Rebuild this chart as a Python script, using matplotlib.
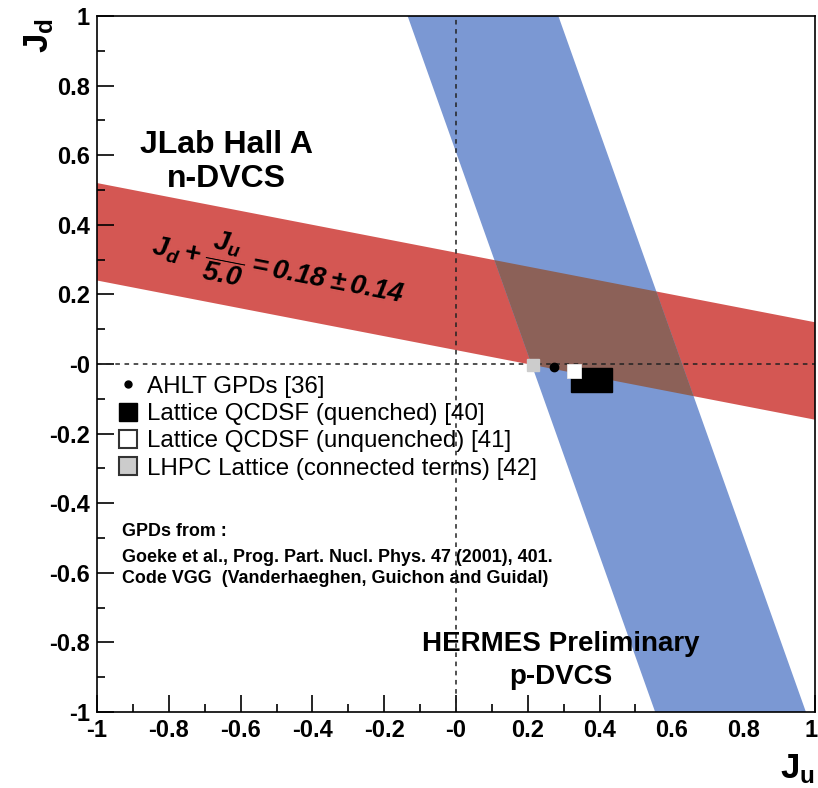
import numpy as np
import matplotlib.pyplot as plt
from matplotlib.patches import Polygon, Rectangle
from matplotlib.lines import Line2D
from matplotlib.ticker import MultipleLocator, FuncFormatter

plt.rcParams['font.family'] = ['Liberation Sans', 'DejaVu Sans']
plt.rcParams['mathtext.fontset'] = 'custom'
plt.rcParams['mathtext.rm'] = 'Liberation Sans:bold:italic'
plt.rcParams['mathtext.it'] = 'Liberation Sans:bold:italic'
plt.rcParams['mathtext.bf'] = 'Liberation Sans:bold'

# JLab Hall A n-DVCS band:  Jd + Ju/5.0 = 0.18 +- 0.14
jlab_div, jlab_val, jlab_err = 5.0, 0.18, 0.14
# HERMES p-DVCS band:  Ju + Jd/2.9 = 0.42 +- 0.21
herm_div, herm_val, herm_err = 2.9, 0.42, 0.21

# model / lattice points (Ju, Jd)
ahlt_ju, ahlt_jd = 0.273, -0.009
qq_ju, qq_jd = 0.377, -0.046          # quenched lattice, shown as error box
qq_eju, qq_ejd = 0.057, 0.034
qu_ju, qu_jd = 0.330, -0.020          # unquenched lattice
lhpc_ju, lhpc_jd = 0.215, -0.003

legend_labels = ['AHLT GPDs [36]', 'Lattice QCDSF (quenched) [40]',
                 'Lattice QCDSF (unquenched) [41]',
                 'LHPC Lattice (connected terms) [42]']

red, blue, brown = '#d45753', '#7b98d3', '#8c6158'

fig = plt.figure(figsize=(8.18, 7.88), dpi=100)
ax = fig.add_axes([0.1186, 0.0964, 0.8777, 0.8833])
ax.set_xlim(-1, 1)
ax.set_ylim(-1, 1)

# red band
xs = np.array([-1.0, 1.0])
lo = jlab_val - jlab_err - xs / jlab_div
hi = jlab_val + jlab_err - xs / jlab_div
red_pts = np.column_stack([np.r_[xs, xs[::-1]], np.r_[lo, hi[::-1]]])
ax.add_patch(Polygon(red_pts, closed=True, fc=red, ec='none', zorder=1))

# blue band
ys = np.array([-1.0, 1.0])
left = herm_val - herm_err - ys / herm_div
right = herm_val + herm_err - ys / herm_div
blue_pts = np.column_stack([np.r_[left, right[::-1]], np.r_[ys, ys[::-1]]])
blue_poly = Polygon(blue_pts, closed=True, fc=blue, ec='none', zorder=2)
ax.add_patch(blue_poly)

# overlap
ov = Polygon(red_pts, closed=True, fc=brown, ec='none', zorder=3)
ax.add_patch(ov)
ov.set_clip_path(blue_poly)

ax.axvline(0, color='#222222', lw=1.1, ls=(0, (3, 3)), zorder=4)
ax.axhline(0, color='#222222', lw=1.1, ls=(0, (3, 3)), zorder=4)

# points
ax.add_patch(Rectangle((qq_ju - qq_eju, qq_jd - qq_ejd), 2 * qq_eju, 2 * qq_ejd,
                       fc='black', ec='black', zorder=5))
ax.plot(qu_ju, qu_jd, 's', ms=10.5, mfc='white', mec='#e8e8e8', mew=0.6, zorder=6)
ax.plot(lhpc_ju, lhpc_jd, 's', ms=8.5, mfc='#cccccc', mec='#cccccc', zorder=6)
ax.plot(ahlt_ju, ahlt_jd, 'o', ms=6, color='black', zorder=6)

handles = [Line2D([], [], ls='', marker='o', ms=5, color='black'),
           Line2D([], [], ls='', marker='s', ms=13, mfc='black', mec='black'),
           Line2D([], [], ls='', marker='s', ms=13, mfc='white', mec='#333333', mew=1.5),
           Line2D([], [], ls='', marker='s', ms=13, mfc='#cccccc', mec='#333333', mew=1.5)]
leg = ax.legend(handles, legend_labels, loc='upper left', bbox_to_anchor=(0.014, 0.497),
                frameon=False, fontsize=17.4, handlelength=0.9, handletextpad=0.35,
                labelspacing=0.22, borderaxespad=0.0)
leg.set_zorder(7)

# texts
ax.text(-0.64, 0.58, 'JLab Hall A\nn-DVCS', ha='center', va='center',
        fontsize=23, fontweight='bold', linespacing=1.2, zorder=7)
ax.text(0.292, -0.851, 'HERMES Preliminary\np-DVCS', ha='center', va='center',
        fontsize=20, fontweight='bold', linespacing=1.35, zorder=7)
ax.text(-0.495, 0.276, r'$J_d + \dfrac{J_u}{5.0} = 0.18 \pm 0.14$', ha='center',
        va='center', rotation=-11, rotation_mode='anchor', fontsize=20, zorder=7)

ax.text(-0.93, -0.48, 'GPDs from :', fontsize=12.9, fontweight='bold', va='center')
ax.text(-0.93, -0.557, 'Goeke et al., Prog. Part. Nucl. Phys. 47 (2001), 401.',
        fontsize=12.9, fontweight='bold', va='center')
ax.text(-0.93, -0.615, 'Code VGG  (Vanderhaeghen, Guichon and Guidal)',
        fontsize=12.9, fontweight='bold', va='center')

# axes style
yfmt = FuncFormatter(lambda v, p: '-0' if abs(v) < 1e-9 else '%g' % v)
# the last x label sits at the frame edge; it is drawn separately right-aligned
xfmt = FuncFormatter(lambda v, p: '' if v > 0.99 else ('-0' if abs(v) < 1e-9 else '%g' % v))
for axis, fmt in ((ax.xaxis, xfmt), (ax.yaxis, yfmt)):
    axis.set_major_locator(MultipleLocator(0.2))
    axis.set_minor_locator(MultipleLocator(0.1))
    axis.set_major_formatter(fmt)
ax.tick_params(which='both', direction='in', top=False, right=False, width=1.2)
ax.tick_params(which='major', length=12, labelsize=17, pad=5)
ax.tick_params(which='minor', length=6)
for lab in ax.get_xticklabels() + ax.get_yticklabels():
    lab.set_fontweight('bold')
ax.annotate('1', xy=(1, 0), xycoords='axes fraction', xytext=(2, -5),
            textcoords='offset points', ha='right', va='top', fontsize=17,
            fontweight='bold', annotation_clip=False)
for sp in ax.spines.values():
    sp.set_linewidth(1.2)
    sp.set_zorder(8)

fig.text(0.048, 0.955, r'$\mathbf{J_d}$', rotation=90, ha='center', va='center', fontsize=25)
fig.text(0.975, 0.024, r'$\mathbf{J_u}$', ha='center', va='center', fontsize=25)

fig.savefig('out.png', dpi=100)
